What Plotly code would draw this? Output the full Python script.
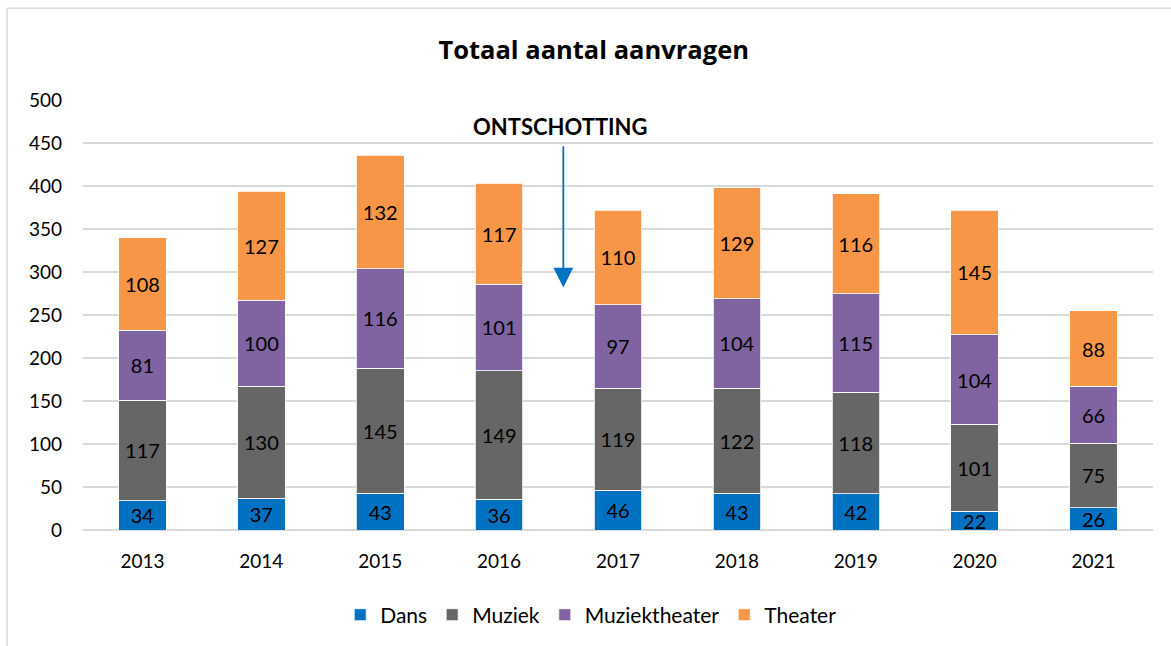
import plotly.graph_objects as go

years = ["2013", "2014", "2015", "2016", "2017", "2018", "2019", "2020", "2021"]
dans = [34, 37, 43, 36, 46, 43, 42, 22, 26]
muziek = [117, 130, 145, 149, 119, 122, 118, 101, 75]
muziektheater = [81, 100, 116, 101, 97, 104, 115, 104, 66]
theater = [108, 127, 132, 117, 110, 129, 116, 145, 88]

series = [
    ("Dans", dans, "#0070C0"),
    ("Muziek", muziek, "#666666"),
    ("Muziektheater", muziektheater, "#8064A2"),
    ("Theater", theater, "#F79646"),
]

FONT = "Lato"
fig = go.Figure()
for name, vals, col in series:
    fig.add_trace(go.Bar(
        x=years, y=vals, name=name,
        marker=dict(color=col, line=dict(color="white", width=0.8)),
        text=[str(v) for v in vals], textposition="inside",
        insidetextanchor="middle", textangle=0, constraintext="none",
        textfont=dict(color="black", size=20, family=FONT),
    ))

fig.update_layout(
    barmode="stack",
    bargap=0.6,
    width=1171, height=646,
    margin=dict(l=83, r=18, t=100, b=115),
    paper_bgcolor="white", plot_bgcolor="white",
    font=dict(family=FONT, size=19, color="black"),
    title=dict(text="<b>Totaal aantal aanvragen</b>", x=0.507, xanchor="center",
               y=0.923, yanchor="middle", font=dict(size=25.5, family="Open Sans", color="black")),
    legend=dict(orientation="h", x=0.4745, xanchor="center", y=-0.195, yanchor="middle",
                font=dict(size=21, family=FONT), traceorder="normal", itemwidth=30),
    showlegend=True,
)
fig.update_xaxes(showgrid=False, showline=False, ticks="", tickfont=dict(size=19),
                 ticklabelstandoff=18)
fig.update_yaxes(range=[0, 500], dtick=50, showgrid=True, gridcolor="#D9D9D9", gridwidth=1.5,
                 zeroline=True, zerolinecolor="#D9D9D9", zerolinewidth=1.5,
                 showline=False, ticks="", tickfont=dict(size=19), ticklabelstandoff=20)

# arrow + label
fig.add_annotation(x=3.54, y=282, ax=3.54, ay=448, xref="x", yref="y", axref="x", ayref="y",
                   text="", showarrow=True, arrowhead=2, arrowsize=2.2, arrowwidth=1.8,
                   arrowcolor="#0070C0")
fig.add_annotation(x=3.52, y=469, xref="x", yref="y", text="<b>ONTSCHOTTING</b>",
                   showarrow=False, font=dict(size=22, family=FONT, color="black"))

# chart frame (top and left edges)
fig.add_shape(type="line", xref="paper", yref="paper", x0=-0.071, x1=1.03, y0=1.2135, y1=1.2135,
              line=dict(color="#D9D9D9", width=1.5))
fig.add_shape(type="line", xref="paper", yref="paper", x0=-0.071, x1=-0.071, y0=1.2135, y1=-0.28,
              line=dict(color="#D9D9D9", width=1.5))

fig.write_html("out.html", config={"displayModeBar": False},
               post_script="document.body.style.margin='0';")
